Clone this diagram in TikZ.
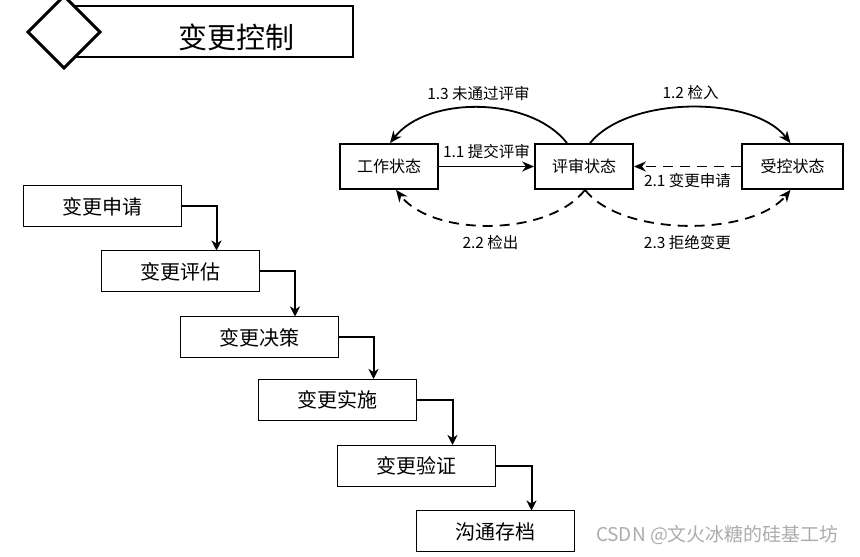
\documentclass[tikz,border=0pt]{standalone}
\usepackage{fontspec}
\setmainfont{Noto Sans CJK SC}
\usetikzlibrary{arrows.meta}
\begin{document}
\begin{tikzpicture}[x=1pt,y=1pt,
        state/.style={draw,line width=1.8pt,minimum width=98pt,minimum height=45pt,font=\fontsize{16}{18}\selectfont},
        proc/.style={draw,line width=1pt,minimum width=158pt,minimum height=41pt,font=\fontsize{20}{22}\selectfont},
        flow/.style={line width=2pt,-{Stealth[length=10pt,width=10pt,inset=3pt]}},
        trans/.style={line width=1.8pt,-{Stealth[length=12pt,width=10pt]}},
        dash line/.style={dash pattern=on 10pt off 7pt},
        lbl/.style={font=\fontsize{15.5}{17}\selectfont}]
        \useasboundingbox (0,0) rectangle (860,557);
        \clip (0,0) rectangle (860,557);
        % title
        \draw[line width=1.5pt] (60,500) rectangle (353,551);
        \draw[line width=3pt,fill=white] (28,525) -- (64,561) -- (100,525) -- (64,489) -- cycle;
        \node[font=\fontsize{29}{32}\selectfont] (title) at (236,520) {变更控制};
        % states
        \node[state] (work) at (389,390.5) {工作状态};
        \node[state] (rev) at (584,390.5) {评审状态};
        \node[state,minimum width=101pt] (ctrl) at (792.5,390.5) {受控状态};
        \draw[trans] (work) -- node[lbl,above,yshift=3pt] {1.1 提交评审} (rev);
        \draw[trans,dash line] (ctrl) -- node[lbl,below,yshift=-3pt] {2.1 变更申请} (rev);
        \draw[trans] ([xshift=-17pt]rev.north) to[out=128,in=52,looseness=0.87]
            node[lbl,above,yshift=3pt] {1.3 未通过评审} ([xshift=1pt]work.north);
        \draw[trans] ([xshift=6pt]rev.north) to[out=51,in=128,looseness=0.78]
            node[lbl,above,yshift=3pt] {1.2 检入} ([xshift=-2pt]ctrl.north);
        \draw[trans,dash line] ([xshift=1pt]rev.south) to[out=-128,in=-52,looseness=0.81]
            node[lbl,below,yshift=-6pt] {2.2 检出} ([xshift=7pt]work.south);
        \draw[trans,dash line] ([xshift=1pt]rev.south) to[out=-52,in=-129,looseness=0.75]
            node[lbl,below,yshift=-6pt] {2.3 拒绝变更} ([xshift=-2pt]ctrl.south);
        % process
        \node[proc] (req) at (102,350.5) {变更申请};
        \node[proc] (eva) at (180.5,285.5) {变更评估};
        \node[proc] (dec) at (259,219.5) {变更决策};
        \node[proc] (imp) at (337.5,157) {变更实施};
        \node[proc] (ver) at (416.5,91) {变更验证};
        \node[proc] (arc) at (495.5,25.5) {沟通存档};
        \draw[flow] (req.east) -| ([xshift=36pt]eva.north);
        \draw[flow] (eva.east) -| ([xshift=36pt]dec.north);
        \draw[flow] (dec.east) -| ([xshift=36pt]imp.north);
        \draw[flow] (imp.east) -| ([xshift=36pt]ver.north);
        \draw[flow] (ver.east) -| ([xshift=36pt]arc.north);
        \node[text=gray!65,font=\fontsize{19}{21}\selectfont] (mark) at (717.5,22) {CSDN @文火冰糖的硅基工坊};
    \end{tikzpicture}
\end{document}
